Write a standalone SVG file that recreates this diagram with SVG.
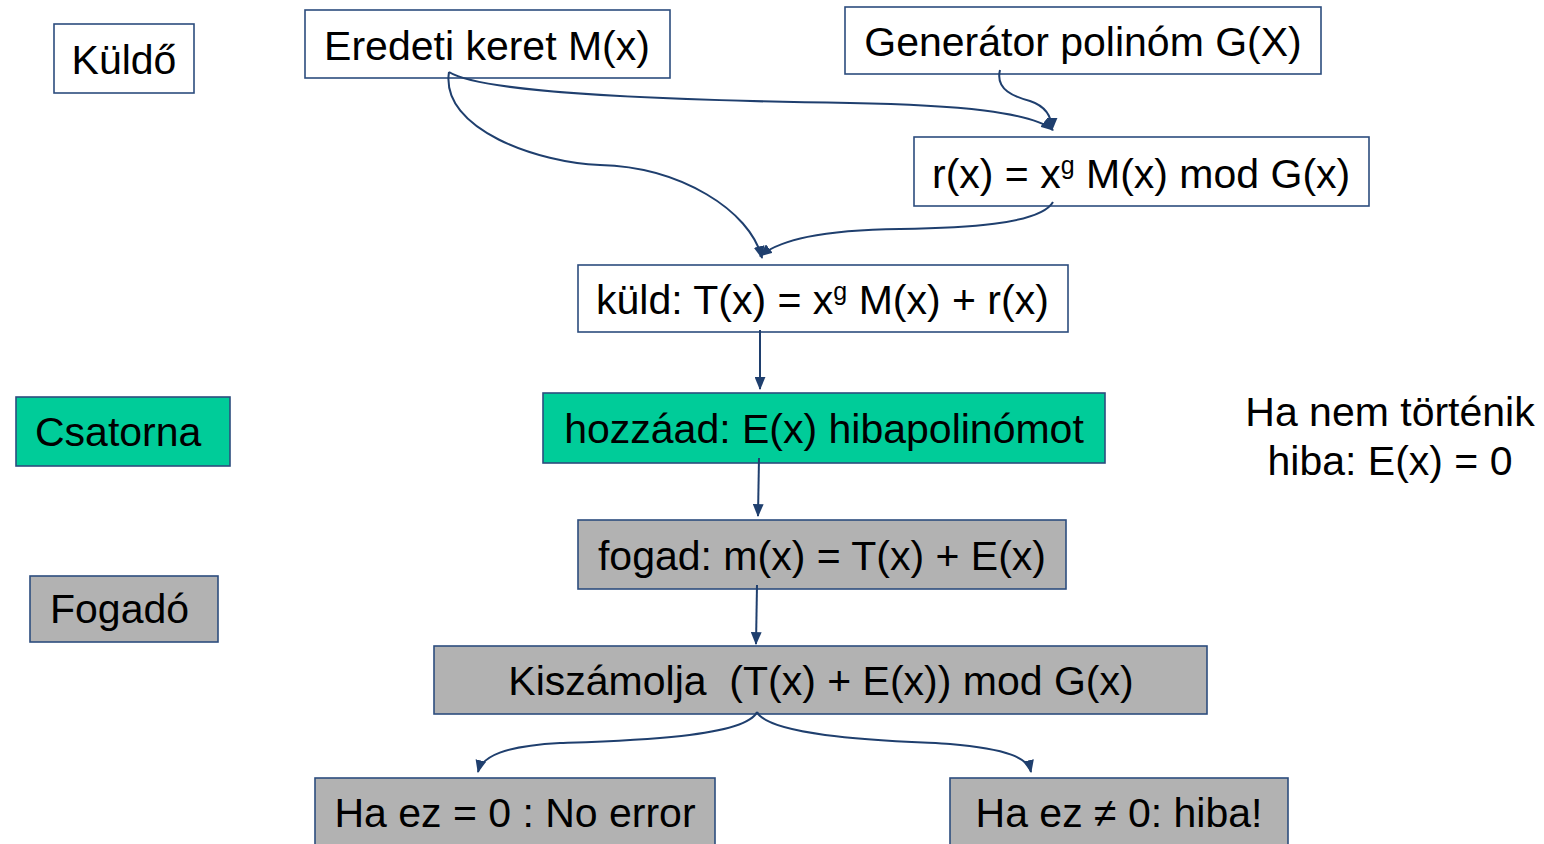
<svg xmlns="http://www.w3.org/2000/svg" width="1544" height="844" viewBox="0 0 1544 844">
  <style>
    .box { stroke: #2c4d7e; stroke-width: 1.6; }
    .plain { fill: #ffffff; }
    .chan { fill: #00cc99; }
    .recv { fill: #b2b2b2; }
    text { font-family: "Liberation Sans", Arial, sans-serif; font-size: 41px; fill: #000000; white-space: pre; }
    .mid { text-anchor: middle; }
    .sup { font-size: 25px; }
    .link { fill: none; stroke: #1f3f6e; stroke-width: 2; }
  </style>
  <defs>
    <marker id="head" viewBox="0 0 12 10" refX="11" refY="5" markerWidth="13" markerHeight="11" markerUnits="userSpaceOnUse" orient="auto">
      <path d="M0,0 L12,5 L0,10 Z" fill="#1f3f6e"/>
    </marker>
  </defs>

  <!-- role labels -->
  <g id="kuldo">
    <rect class="box plain" x="54" y="24" width="140" height="69"/>
    <text x="124" y="74" class="mid">Küldő</text>
  </g>
  <g id="csatorna">
    <rect class="box chan" x="16" y="397" width="214" height="69"/>
    <text x="35" y="446">Csatorna</text>
  </g>
  <g id="fogado">
    <rect class="box recv" x="30" y="576" width="188" height="66"/>
    <text x="50" y="623">Fogadó</text>
  </g>

  <!-- sender side -->
  <g id="eredeti">
    <rect class="box plain" x="305" y="10" width="365" height="68"/>
    <text x="487" y="60" class="mid">Eredeti keret M(x)</text>
  </g>
  <g id="generator">
    <rect class="box plain" x="845" y="7" width="476" height="67"/>
    <text x="1083" y="56" class="mid">Generátor polinóm G(X)</text>
  </g>
  <g id="maradek">
    <rect class="box plain" x="914" y="137" width="455" height="69"/>
    <text x="932" y="188">r(x) = x<tspan class="sup" dy="-14">g</tspan><tspan dy="14"> M(x) mod G(x)</tspan></text>
  </g>
  <g id="kuld">
    <rect class="box plain" x="578" y="265" width="490" height="67"/>
    <text x="596" y="314">küld: T(x) = x<tspan class="sup" dy="-14">g</tspan><tspan dy="14"> M(x) + r(x)</tspan></text>
  </g>

  <!-- channel -->
  <g id="hozzaad">
    <rect class="box chan" x="543" y="393" width="562" height="70"/>
    <text x="824" y="443" class="mid">hozzáad: E(x) hibapolinómot</text>
  </g>
  <g id="megjegyzes">
    <text x="1390" y="426" class="mid">Ha nem történik</text>
    <text x="1390" y="475" class="mid">hiba: E(x) = 0</text>
  </g>

  <!-- receiver side -->
  <g id="fogad">
    <rect class="box recv" x="578" y="520" width="488" height="69"/>
    <text x="822" y="570" class="mid">fogad: m(x) = T(x) + E(x)</text>
  </g>
  <g id="kiszamolja">
    <rect class="box recv" x="434" y="646" width="773" height="68"/>
    <text x="821" y="695" class="mid">Kiszámolja  (T(x) + E(x)) mod G(x)</text>
  </g>
  <g id="nincs-hiba">
    <rect class="box recv" x="315" y="778" width="400" height="80"/>
    <text x="515" y="827" class="mid">Ha ez = 0 : No error</text>
  </g>
  <g id="hiba">
    <rect class="box recv" x="950" y="778" width="338" height="80"/>
    <text x="1119" y="827" class="mid">Ha ez ≠ 0: hiba!</text>
  </g>

  <!-- connectors -->
  <g id="connectors">
    <path class="link" marker-end="url(#head)" d="M449,72 C480,92 640,100 850,103 C960,105 1030,112 1053,130"/>
    <path class="link" marker-end="url(#head)" d="M1000,70 C995,90 1015,97 1030,101 C1045,106 1052,116 1052,130"/>
    <path class="link" marker-end="url(#head)" d="M449,72 C440,130 540,163 600,165 C680,167 750,210 762,258"/>
    <path class="link" marker-end="url(#head)" d="M1053,202 C1040,225 960,228 900,229 C820,230 780,240 760,256"/>
    <path class="link" marker-end="url(#head)" d="M760,330 L760,389"/>
    <path class="link" marker-end="url(#head)" d="M759,458 L758,516"/>
    <path class="link" marker-end="url(#head)" d="M757,585 L756,644"/>
    <path class="link" marker-end="url(#head)" d="M757,712 C745,738 620,741 560,743 C505,746 482,756 478,772"/>
    <path class="link" marker-end="url(#head)" d="M757,712 C770,738 900,741 950,744 C1008,749 1028,758 1031,772"/>
  </g>
</svg>
